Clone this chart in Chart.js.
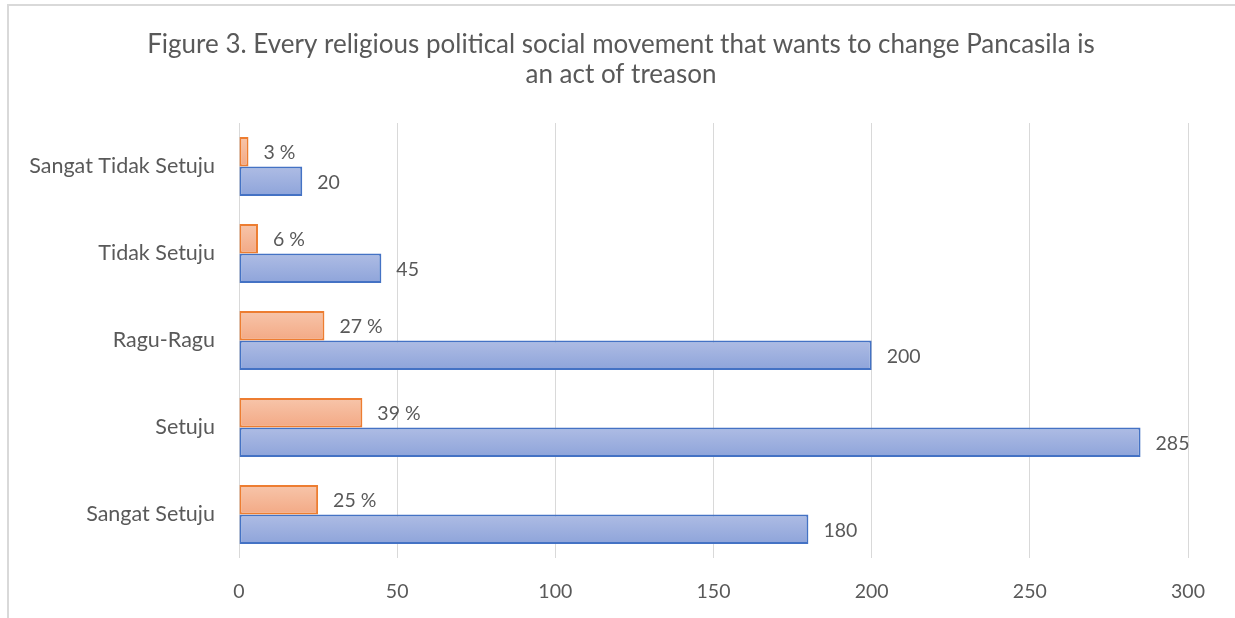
<!DOCTYPE html>
<html><head><meta charset="utf-8">
<script src="https://cdn.jsdelivr.net/npm/chart.js@4/dist/chart.umd.min.js"></script>
<style>
html,body{margin:0;padding:0;background:#fff;}
#wrap{position:relative;width:1235px;height:618px;}
#frame{position:absolute;left:7px;top:4px;width:1240px;height:620px;border-left:2px solid #d9d9d9;border-top:2px solid #d9d9d9;box-sizing:border-box;}
canvas{position:absolute;left:0;top:0;}
</style></head>
<body><div id="wrap"><div id="frame"></div><canvas id="c" width="1235" height="618"></canvas></div>
<script>
const categories = ["Sangat Tidak Setuju","Tidak Setuju","Ragu-Ragu","Setuju","Sangat Setuju"];
const percentValues = [3, 6, 27, 39, 25];
const countValues = [20, 45, 200, 285, 180];
const xTicks = [0, 50, 100, 150, 200, 250, 300];
const titleLines = ["Figure 3. Every religious political social movement that wants to change Pancasila is","an act of treason"];

const FONT = "Lato, 'Open Sans', sans-serif";
const GRAY = "#595959";
const CAT_PCT = 0.68;

function barGradient(ctx, which, top, bottom) {
  const chart = ctx.chart;
  const area = chart.chartArea;
  if (!area) return which === 0 ? "#f5b897" : "#a0b2e0";
  const ys = chart.scales.y;
  const c = ys.getPixelForValue(ctx.dataIndex);
  const catH = (area.bottom - area.top) / categories.length;
  const h = catH * CAT_PCT / 2;
  const y0 = which === 0 ? c - h : c;
  const y1 = which === 0 ? c : c + h;
  const g = chart.ctx.createLinearGradient(0, y0, 0, y1);
  g.addColorStop(0, top);
  g.addColorStop(1, bottom);
  return g;
}

const titlePlugin = {
  id: "twoLineTitle",
  afterDraw(chart) {
    const ctx = chart.ctx;
    ctx.save();
    ctx.font = "26px " + FONT;
    ctx.fillStyle = GRAY;
    ctx.textAlign = "center";
    ctx.textBaseline = "middle";
    titleLines.forEach((t, i) => ctx.fillText(t, 621, 45 + i * 30));
    ctx.restore();
  }
};

const labelPlugin = {
  id: "valLabels",
  afterDatasetsDraw(chart) {
    const ctx = chart.ctx;
    ctx.save();
    ctx.font = "19.5px " + FONT;
    ctx.fillStyle = GRAY;
    ctx.textBaseline = "middle";
    ctx.textAlign = "left";
    chart.data.datasets.forEach((ds, di) => {
      const meta = chart.getDatasetMeta(di);
      meta.data.forEach((bar, i) => {
        const v = ds.data[i];
        const txt = di === 0 ? v + " %" : String(v);
        ctx.fillText(txt, bar.x + 15, bar.y + 1);
      });
    });
    ctx.restore();
  }
};

new Chart(document.getElementById("c"), {
  type: "bar",
  data: {
    labels: categories,
    datasets: [
      {
        label: "Persen",
        data: percentValues,
        backgroundColor: (ctx) => barGradient(ctx, 0, "#f7c5aa", "#f3a985"),
        borderColor: "#ed7d31",
        borderWidth: 2,
        borderSkipped: false,
        categoryPercentage: CAT_PCT,
        barPercentage: 1
      },
      {
        label: "Jumlah",
        data: countValues,
        backgroundColor: (ctx) => barGradient(ctx, 1, "#aebce4", "#8ea4da"),
        borderColor: "#4472c4",
        borderWidth: 2,
        borderSkipped: false,
        categoryPercentage: CAT_PCT,
        barPercentage: 1
      }
    ]
  },
  options: {
    indexAxis: "y",
    responsive: false,
    animation: false,
    devicePixelRatio: 1,
    layout: { padding: { left: 0, right: 47, top: 123, bottom: 0 } },
    plugins: {
      legend: { display: false },
      tooltip: { enabled: false },
      title: { display: false }
    },
    scales: {
      x: {
        min: 0, max: 300,
        afterBuildTicks(scale) { scale.ticks = xTicks.map(v => ({ value: v })); },
        afterFit(scale) { scale.height = 60; },
        grid: { color: "#d9d9d9", lineWidth: 1, drawTicks: false },
        border: { display: false },
        ticks: { color: GRAY, font: { family: FONT, size: 19.5 }, padding: 22 }
      },
      y: {
        afterFit(scale) { scale.width = 239; },
        grid: { display: false, drawTicks: false },
        border: { display: false },
        ticks: { color: GRAY, font: { family: FONT, size: 21.5 }, padding: 24 }
      }
    }
  },
  plugins: [labelPlugin, titlePlugin]
});
</script></body></html>
